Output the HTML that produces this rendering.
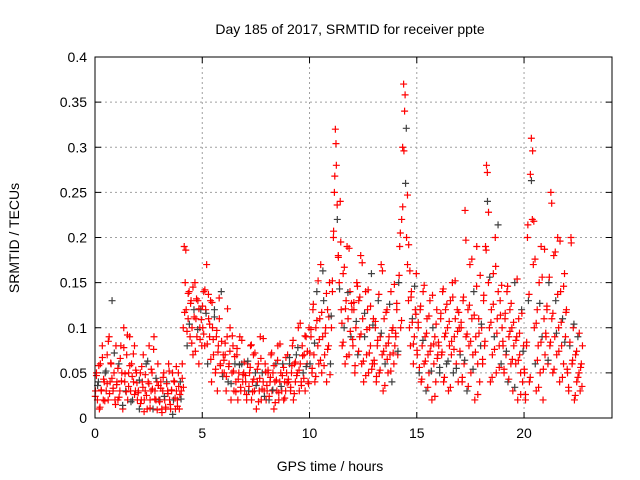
<!DOCTYPE html>
<html><head><meta charset="utf-8"><style>
body{margin:0;background:#fff;}
svg{display:block;font-family:"Liberation Sans",sans-serif;}
</style></head><body>
<svg id="chart" width="640" height="480">
<text x="350" y="34" font-size="14" text-anchor="middle">Day 185 of 2017, SRMTID for receiver ppte</text>
<text x="330" y="471" font-size="14" text-anchor="middle">GPS time / hours</text>
<text transform="translate(19,238) rotate(-90)" font-size="14" text-anchor="middle">SRMTID / TECUs</text>
<g id="grid"></g><g id="ticks"></g><g id="points"></g>
<rect x="95" y="57" width="517" height="361" fill="none" stroke="#000" stroke-width="1"/>
</svg>
<script>
const xTicks=[0,5,10,15,20];
const yTicks=[0,0.05,0.1,0.15,0.2,0.25,0.3,0.35,0.4];
const yTickLabels=["0","0.05","0.1","0.15","0.2","0.25","0.3","0.35","0.4"];
const hourStarts=[0,1,2,3,4,5,6,7,8,9,10,11,12,13,14,15,16,17,18,19,20,21,22];
const h0=[.03,.05,.02,.04,.01,.06,.03,.08,.02,.04,.05,.03,.07,.02,.09,.04,.06,.13,.03,.05,.02,.08];
const h1=[.04,.02,.06,.03,.08,.05,.01,.1,.04,.03,.07,.02,.05,.09,.03,.06,.02,.04,.08,.03,.05,.02];
const h2=[.03,.01,.05,.02,.04,.07,.02,.03,.06,.01,.04,.08,.02,.03,.05,.01,.09,.03,.02,.04,.06,.02];
const h3=[.02,.04,.01,.03,.05,.02,.01,.04,.03,.06,.02,.01,.03,.05,.02,.04,.01,.03,.02,.05,.01,.04];
const h4=[.03,.06,.1,.19,.15,.12,.08,.11,.14,.09,.13,.1,.07,.12,.15,.11,.09,.13,.06,.1,.12,.08];
const h5=[.1,.14,.08,.12,.17,.06,.11,.09,.13,.04,.1,.07,.12,.05,.09,.03,.08,.11,.06,.14,.05,.07];
const h6=[.05,.07,.03,.09,.04,.06,.1,.02,.05,.08,.03,.06,.04,.07,.02,.05,.09,.03,.06,.04,.05,.03];
const h7=[.04,.02,.06,.03,.05,.08,.02,.04,.07,.03,.05,.01,.04,.06,.03,.09,.02,.05,.04,.03,.06,.02];
const h8=[.03,.05,.02,.04,.07,.03,.05,.01,.04,.06,.03,.08,.02,.04,.05,.03,.06,.02,.04,.03,.05,.07];
const h9=[.04,.06,.03,.05,.08,.02,.06,.04,.07,.05,.1,.03,.06,.04,.08,.05,.07,.03,.09,.06,.04,.1];
const h10=[.06,.09,.05,.12,.07,.04,.1,.14,.08,.06,.11,.17,.05,.09,.13,.07,.1,.04,.12,.08,.15,.06];
const h11=[.1,.14,.2,.25,.32,.28,.22,.18,.15,.24,.12,.08,.16,.1,.06,.13,.19,.11,.07,.14,.09,.12];
const h12=[.08,.12,.05,.1,.15,.07,.13,.09,.18,.06,.11,.04,.09,.14,.07,.12,.05,.1,.08,.16,.06,.11];
const h13=[.06,.1,.04,.08,.13,.05,.09,.17,.07,.03,.11,.06,.08,.12,.05,.09,.07,.14,.04,.1,.06,.08];
const h14=[.09,.12,.07,.15,.19,.1,.22,.3,.37,.34,.26,.2,.17,.13,.1,.08,.14,.11,.06,.09,.12,.16];
const h15=[.07,.1,.05,.12,.04,.08,.14,.06,.09,.03,.11,.07,.05,.13,.08,.02,.1,.06,.09,.04,.12,.07];
const h16=[.08,.05,.11,.07,.14,.04,.09,.12,.06,.1,.03,.08,.13,.07,.15,.05,.09,.11,.06,.12,.04,.1];
const h17=[.07,.1,.04,.13,.06,.23,.09,.03,.12,.08,.17,.05,.11,.07,.14,.02,.09,.19,.06,.11,.04,.08];
const h18=[.1,.06,.13,.08,.19,.28,.24,.15,.1,.04,.12,.07,.16,.09,.2,.05,.11,.14,.08,.13,.06,.1];
const h19=[.08,.05,.11,.07,.14,.04,.09,.12,.06,.1,.03,.08,.15,.06,.09,.02,.11,.07,.05,.12,.04,.08];
const h20=[.05,.02,.08,.2,.13,.04,.27,.31,.22,.17,.1,.06,.03,.12,.08,.15,.05,.19,.09,.02,.11,.07];
const h21=[.09,.12,.06,.15,.08,.25,.11,.05,.18,.09,.13,.07,.2,.1,.04,.14,.08,.11,.06,.16,.09,.12];
const h22=[.05,.03,.08,.2,.06,.1,.02,.07,.04,.09,.05,.03,.06,.08];
const k0=[.024,.047,.036,.058,.012,.031,.067,.043,.019,.052,.038,.085,.027,.061,.044,.033,.072,.015];
const k1=[.037,.055,.023,.066,.041,.014,.078,.049,.029,.092,.035,.058,.018,.046,.071,.026,.053,.039];
const k2=[.028,.042,.016,.057,.034,.007,.048,.025,.063,.038,.011,.054,.032,.076,.021,.044,.009,.036];
const k3=[.018,.033,.006,.045,.024,.012,.038,.027,.052,.015,.031,.004,.041,.022,.057,.013,.035,.026];
const k4=[.021,.044,.034,.117,.186,.096,.138,.104,.127,.083,.145,.112,.074,.132,.098,.121,.087,.109];
const k5=[.124,.093,.142,.116,.082,.137,.104,.065,.128,.087,.112,.054,.097,.073,.133,.058,.085,.046];
const k6=[.064,.083,.046,.121,.057,.074,.038,.091,.052,.068,.029,.077,.043,.059,.034,.086,.048,.062];
const k7=[.047,.026,.063,.035,.056,.081,.029,.043,.072,.036,.054,.018,.044,.066,.032,.088,.024,.051];
const k8=[.036,.053,.024,.045,.072,.031,.058,.017,.042,.064,.028,.082,.035,.047,.056,.022,.067,.039];
const k9=[.043,.067,.034,.058,.086,.027,.062,.047,.078,.053,.105,.036,.069,.044,.091,.057,.074,.038];
const k10=[.072,.098,.055,.126,.083,.046,.108,.152,.087,.064,.117,.163,.058,.094,.138,.076,.112,.048];
const k11=[.113,.152,.207,.268,.304,.236,.178,.143,.195,.105,.084,.167,.121,.068,.139,.188,.096,.127];
const k12=[.087,.128,.058,.107,.146,.074,.134,.093,.172,.063,.116,.047,.098,.142,.072,.124,.054,.103];
const k13=[.064,.107,.046,.086,.137,.053,.094,.163,.074,.036,.117,.065,.083,.126,.052,.097,.072,.148];
const k14=[.094,.127,.074,.158,.205,.108,.234,.296,.358,.321,.247,.192,.163,.134,.106,.082,.146,.115];
const k15=[.075,.106,.056,.124,.043,.086,.147,.063,.094,.034,.113,.074,.052,.136,.082,.024,.104,.066];
const k16=[.084,.056,.116,.073,.143,.045,.094,.126,.063,.107,.034,.085,.134,.076,.152,.055,.096,.117];
const k17=[.074,.106,.045,.134,.064,.197,.093,.035,.125,.085,.176,.054,.114,.073,.146,.026,.094,.158];
const k18=[.104,.065,.136,.085,.186,.272,.228,.156,.106,.045,.126,.076,.168,.094,.214,.056,.114,.147];
const k19=[.085,.054,.116,.074,.146,.043,.096,.127,.065,.106,.034,.086,.154,.064,.094,.026,.116,.074];
const k20=[.054,.026,.084,.214,.137,.045,.263,.296,.218,.176,.105,.064,.034,.127,.084,.156,.054,.187];
const k21=[.094,.124,.064,.156,.084,.238,.116,.054,.184,.094,.137,.074,.196,.106,.045,.146,.084,.117];
const k22=[.054,.034,.084,.194,.064,.104,.025,.074,.045,.094,.056,.035];
const hourValues=[h0,h1,h2,h3,h4,h5,h6,h7,h8,h9,h10,h11,h12,h13,h14,h15,h16,h17,h18,h19,h20,h21,h22];
const hourValuesB=[k0,k1,k2,k3,k4,k5,k6,k7,k8,k9,k10,k11,k12,k13,k14,k15,k16,k17,k18,k19,k20,k21,k22];
const hourSpan=[1,1,1,1,1,1,1,1,1,1,1,1,1,1,1,1,1,1,1,1,1,1,0.75];

const X0=95,X1=612,Y0=418,Y1=57,XMAX=24.1,YMAX=0.4;
const xs=t=>X0+t/XMAX*(X1-X0);
const ys=v=>Y0-v/YMAX*(Y0-Y1);
const NS="http://www.w3.org/2000/svg";
const grid=document.getElementById('grid'),ticks=document.getElementById('ticks'),pts=document.getElementById('points');
function mk(tag,attrs,parent){const e=document.createElementNS(NS,tag);for(const k in attrs)e.setAttribute(k,attrs[k]);parent.appendChild(e);return e;}
xTicks.forEach(t=>{
  const x=xs(t);
  if(t>0){const g=mk('line',{x1:x,x2:x,y1:Y1,y2:Y0,stroke:'#a0a0a0','stroke-dasharray':'2,3'},grid);
  
  }
  mk('line',{x1:x,x2:x,y1:Y0,y2:Y0-6,stroke:'#000'},ticks);
  mk('line',{x1:x,x2:x,y1:Y1,y2:Y1+6,stroke:'#000'},ticks);
  const l=mk('text',{x:x,y:Y0+20,'font-size':14,'text-anchor':'middle'},ticks);
  l.textContent=t;
  
  
});
yTicks.forEach((v,i)=>{
  const y=ys(v);
  if(v>0&&v<YMAX){const g=mk('line',{x1:X0,x2:X1,y1:y,y2:y,stroke:'#a0a0a0','stroke-dasharray':'2,3'},grid);
  
  }
  mk('line',{x1:X0,x2:X0+6,y1:y,y2:y,stroke:'#000'},ticks);
  mk('line',{x1:X1,x2:X1-6,y1:y,y2:y,stroke:'#000'},ticks);
  const l=mk('text',{x:X0-8,y:y+5,'font-size':14,'text-anchor':'end'},ticks);
  l.textContent=yTickLabels[i];
  
  
});
let n=0;
function drawSet(set,phase){
  set.forEach((vals,h)=>{
    vals.forEach((v,i)=>{
      const t=hourStarts[h]+hourSpan[h]*(i+phase)/vals.length;
      const x=xs(t),y=ys(v);
      const col=(n%7===3)?'#404040':'#ff0000';
      const p=mk('path',{d:`M${x-3.5},${y}H${x+3.5}M${x},${y-3.5}V${y+3.5}`,stroke:col,'stroke-width':1.2,fill:'none'},pts);
      
      
      n++;
    });
  });
}
drawSet(hourValues,0.5);
drawSet(hourValuesB,0.2);
</script>
</body></html>
